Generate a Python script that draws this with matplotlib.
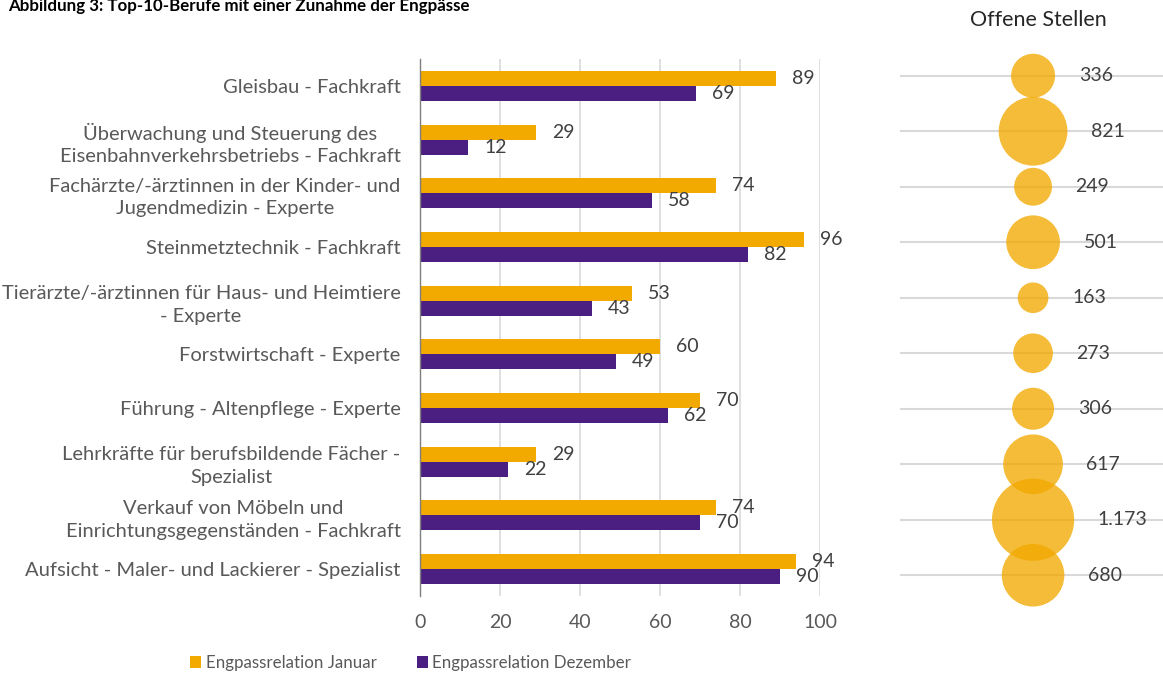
import numpy as np
import matplotlib.pyplot as plt

plt.rcParams['font.family'] = ['Lato', 'DejaVu Sans']

categories = [
    "Gleisbau - Fachkraft",
    "Überwachung und Steuerung des\nEisenbahnverkehrsbetriebs - Fachkraft",
    "Fachärzte/-ärztinnen in der Kinder- und\nJugendmedizin - Experte",
    "Steinmetztechnik - Fachkraft",
    "Tierärzte/-ärztinnen für Haus- und Heimtiere\n- Experte",
    "Forstwirtschaft - Experte",
    "Führung - Altenpflege - Experte",
    "Lehrkräfte für berufsbildende Fächer -\nSpezialist",
    "Verkauf von Möbeln und\nEinrichtungsgegenständen - Fachkraft",
    "Aufsicht - Maler- und Lackierer - Spezialist",
]
januar = [89, 29, 74, 96, 53, 60, 70, 29, 74, 94]
dezember = [69, 12, 58, 82, 43, 49, 62, 22, 70, 90]
offene_stellen = [336, 821, 249, 501, 163, 273, 306, 617, 1173, 680]
offene_labels = ["336", "821", "249", "501", "163", "273", "306", "617", "1.173", "680"]

c_jan = "#F2A900"
c_dez = "#4B1F82"
grid_c = "#D9D9D9"
txt_c = "#595959"
val_c = "#404040"

W, H = 1163, 676
fig = plt.figure(figsize=(W / 100, H / 100), dpi=100)

# bar chart
ax = fig.add_axes([420 / W, 1 - 596 / H, 400 / W, 537 / H])
y = np.arange(len(categories))
bh = 0.28
b1 = ax.barh(y - bh / 2, januar, height=bh, color=c_jan, label="Engpassrelation Januar")
b2 = ax.barh(y + bh / 2, dezember, height=bh, color=c_dez, label="Engpassrelation Dezember")
for bars, vals in ((b1, januar), (b2, dezember)):
    for rect, v in zip(bars, vals):
        ax.annotate(str(v), (rect.get_width(), rect.get_y() + rect.get_height() / 2),
                    xytext=(11.5, 0), textcoords="offset points",
                    va="center", ha="left", fontsize=14, color=val_c)
ax.set_xlim(0, 100)
ax.set_ylim(len(categories) - 0.5, -0.5)
ax.set_xticks(range(0, 101, 20))
ax.set_yticks(y)
ax.set_yticklabels(categories)
for t in ax.get_yticklabels():
    t.set_multialignment("center")
    t.set_linespacing(1.4)
ax.tick_params(axis="y", length=0, pad=14, labelsize=14.5, labelcolor=txt_c)
ax.tick_params(axis="x", length=0, pad=13, labelsize=14, labelcolor=txt_c)
ax.grid(axis="x", color=grid_c, lw=1.2)
ax.set_axisbelow(True)
for s in ("top", "right", "bottom"):
    ax.spines[s].set_visible(False)
ax.spines["left"].set_color("#7F7F7F")
ax.spines["left"].set_linewidth(1.0)

fig.legend(handles=[b1, b2], loc="center left", bbox_to_anchor=(175 / W, 1 - 663 / H),
           ncol=2, frameon=False, fontsize=12.2, labelcolor=txt_c,
           handlelength=0.65, handleheight=0.65, handletextpad=0.25, columnspacing=2.4)

# bubble panel
ax2 = fig.add_axes([900 / W, 1 - 603 / H, 263 / W, 555 / H])
ax2.set_ylim(len(categories) - 0.5, -0.5)
ax2.set_xlim(-0.506, 0.494)
sizes = [(2.4 * np.sqrt(v) * 0.72) ** 2 for v in offene_stellen]
ax2.scatter(np.zeros(len(offene_stellen)), y, s=sizes, color=c_jan, alpha=0.78,
            linewidths=0, zorder=3, clip_on=False)
for yi, v, lab in zip(y, offene_stellen, offene_labels):
    r_pt = 1.2 * np.sqrt(v) * 0.72
    ax2.annotate(lab, (0, yi), xytext=(r_pt + 17, 0), textcoords="offset points",
                 va="center", ha="left", fontsize=14, color=val_c, zorder=4)
ax2.set_yticks(y)
ax2.set_xticks([])
ax2.tick_params(axis="y", length=0, labelleft=False)
ax2.grid(axis="y", color=grid_c, lw=1.5)
ax2.set_axisbelow(True)
for s in ax2.spines.values():
    s.set_visible(False)

fig.text(1038 / W, 1 - 20 / H, "Offene Stellen", ha="center", va="center",
         fontsize=15.5, color="#262626")
fig.text(8 / W, 1 - 11 / H, "Abbildung 3: Top-10-Berufe mit einer Zunahme der Engpässe",
         ha="left", va="baseline", fontsize=12.2, fontweight="bold", color="black")

fig.savefig("out.png", dpi=100)
